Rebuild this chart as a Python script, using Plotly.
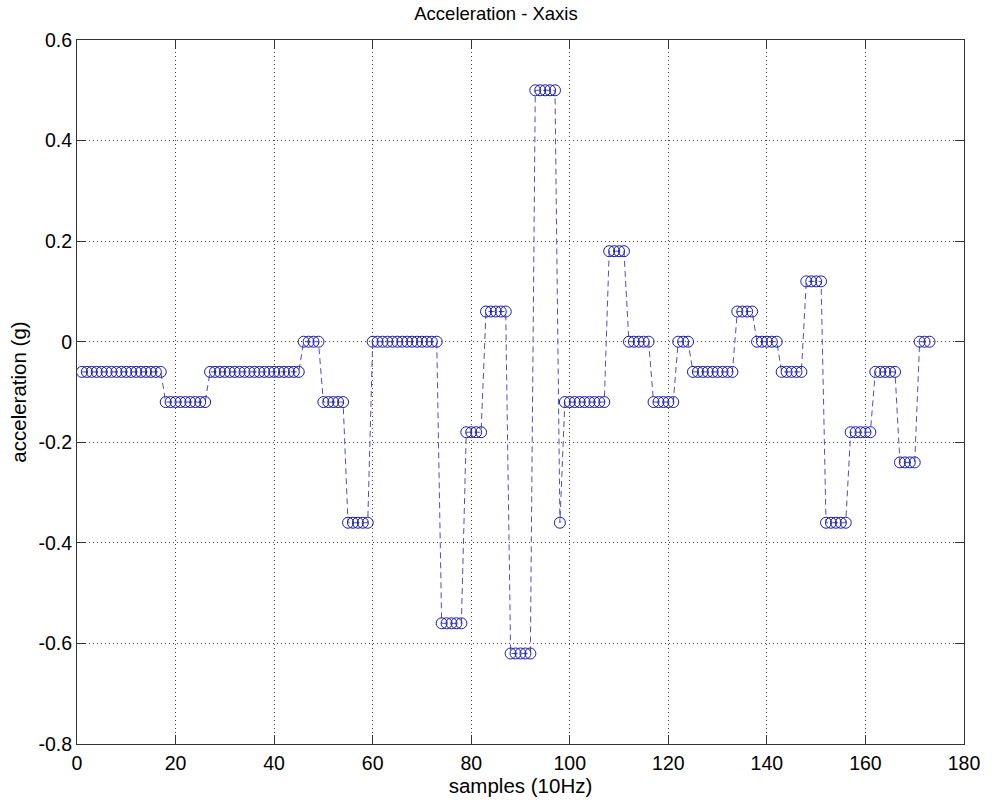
import plotly.graph_objects as go

# sample index (10 Hz)
samples = list(range(1, 174))

# acceleration values (g)
accel = [
    -0.06, -0.06, -0.06, -0.06, -0.06, -0.06, -0.06, -0.06, -0.06, -0.06,
    -0.06, -0.06, -0.06, -0.06, -0.06, -0.06, -0.06,
    -0.12, -0.12, -0.12, -0.12, -0.12, -0.12, -0.12, -0.12, -0.12,
    -0.06, -0.06, -0.06, -0.06, -0.06, -0.06, -0.06, -0.06, -0.06, -0.06,
    -0.06, -0.06, -0.06, -0.06, -0.06, -0.06, -0.06, -0.06, -0.06,
    0.0, 0.0, 0.0, 0.0,
    -0.12, -0.12, -0.12, -0.12, -0.12,
    -0.36, -0.36, -0.36, -0.36, -0.36,
    0.0, 0.0, 0.0, 0.0, 0.0, 0.0, 0.0, 0.0, 0.0, 0.0, 0.0, 0.0, 0.0, 0.0,
    -0.56, -0.56, -0.56, -0.56, -0.56,
    -0.18, -0.18, -0.18, -0.18,
    0.06, 0.06, 0.06, 0.06, 0.06,
    -0.62, -0.62, -0.62, -0.62, -0.62,
    0.5, 0.5, 0.5, 0.5, 0.5,
    -0.36,
    -0.12, -0.12, -0.12, -0.12, -0.12, -0.12, -0.12, -0.12, -0.12,
    0.18, 0.18, 0.18, 0.18,
    0.0, 0.0, 0.0, 0.0, 0.0,
    -0.12, -0.12, -0.12, -0.12, -0.12,
    0.0, 0.0, 0.0,
    -0.06, -0.06, -0.06, -0.06, -0.06, -0.06, -0.06, -0.06, -0.06,
    0.06, 0.06, 0.06, 0.06,
    0.0, 0.0, 0.0, 0.0, 0.0,
    -0.06, -0.06, -0.06, -0.06, -0.06,
    0.12, 0.12, 0.12, 0.12,
    -0.36, -0.36, -0.36, -0.36, -0.36,
    -0.18, -0.18, -0.18, -0.18, -0.18,
    -0.06, -0.06, -0.06, -0.06, -0.06,
    -0.24, -0.24, -0.24, -0.24,
    0.0, 0.0, 0.0,
]

x_ticks = [0, 20, 40, 60, 80, 100, 120, 140, 160, 180]
y_ticks = [-0.8, -0.6, -0.4, -0.2, 0, 0.2, 0.4, 0.6]
y_tick_text = ["-0.8", "-0.6", "-0.4", "-0.2", "0", "0.2", "0.4", "0.6"]

FONT = "Liberation Sans, Arial, sans-serif"

fig = go.Figure()
fig.add_trace(go.Scatter(
    x=samples, y=accel, mode="lines+markers",
    line=dict(color="#5050b8", width=1, dash="6px,4px"),
    marker=dict(symbol="circle-open", size=11, color="#1a1ab4",
                line=dict(width=1, color="#1a1ab4")),
    showlegend=False,
))

axis_common = dict(
    showline=True, linecolor="#333333", linewidth=1, mirror="allticks",
    ticks="inside", ticklen=9, tickcolor="#333333", tickwidth=1,
    showgrid=True, gridcolor="#444444", griddash="1px,3px", gridwidth=1,
    zeroline=False,
    tickfont=dict(family=FONT, size=19.5, color="black"),
)

fig.update_layout(
    width=992, height=804,
    margin=dict(l=77, r=23, t=40, b=60),
    paper_bgcolor="white", plot_bgcolor="white",
    font=dict(family=FONT, color="black"),
    title=dict(text="Acceleration - Xaxis", x=0.5, xanchor="center",
               y=1 - 14 / 804, yanchor="middle", yref="container",
               font=dict(family=FONT, size=18.5, color="black")),
    xaxis=dict(range=[0, 180], tickvals=x_ticks, ticklabelstandoff=2,
               title=dict(text="samples (10Hz)", standoff=2,
                          font=dict(family=FONT, size=20.5, color="black")),
               **axis_common),
    yaxis=dict(range=[-0.8, 0.6], tickvals=y_ticks, ticktext=y_tick_text,
               ticklabelstandoff=0,
               title=dict(text="acceleration (g)", standoff=6,
                          font=dict(family=FONT, size=20.5, color="black")),
               **axis_common),
)

fig.write_html("out.html")
